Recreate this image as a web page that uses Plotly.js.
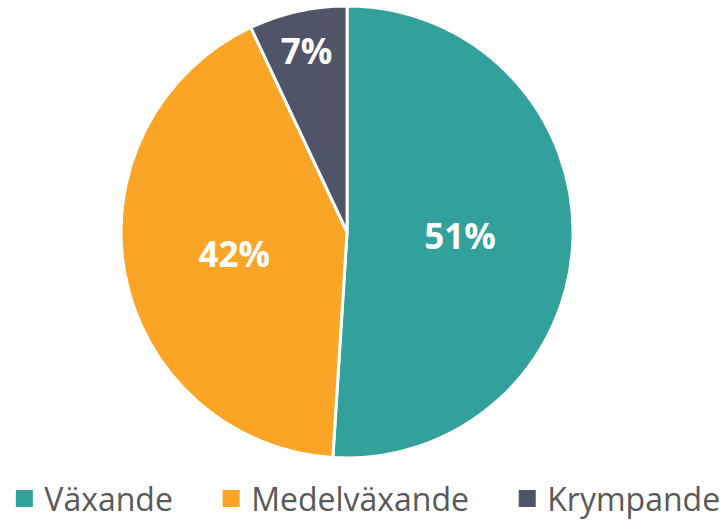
<!DOCTYPE html>
<html>
<head>
<meta charset="utf-8">
<script src="https://cdn.plot.ly/plotly-3.0.1.min.js"></script>
<style>html,body{margin:0;padding:0;background:#fff;}#chart{width:723px;height:520px;}</style>
</head>
<body>
<div id="chart"></div>
<script>
const categories = ["Växande", "Medelväxande", "Krympande"];
const shares = [51, 42, 7];
const colors = ["#33A19B", "#FBA526", "#4F5468"];

// extra spacing between legend entries (non-breaking spaces)
const legendPad = "\u00a0\u00a0\u00a0\u00a0";

const trace = {
  type: "pie",
  labels: categories.map((c, i) => i < categories.length - 1 ? c + legendPad : c),
  values: shares,
  sort: false,
  direction: "clockwise",
  rotation: 0,
  marker: {colors: colors, line: {color: "#ffffff", width: 3}},
  texttemplate: "%{percent:.0%}",
  textposition: "inside",
  insidetextorientation: "horizontal",
  textfont: {family: "Open Sans", size: 35, color: "#ffffff", weight: "bold"},
  hoverinfo: "none",
  domain: {x: [0, 0.96], y: [0.1206, 1]}
};

const layout = {
  width: 723, height: 520,
  margin: {l: 0, r: 0, t: 6, b: 0, autoexpand: false},
  paper_bgcolor: "#ffffff",
  plot_bgcolor: "#ffffff",
  showlegend: true,
  legend: {
    orientation: "h", x: 0.006, xanchor: "left", y: 0.095, yanchor: "top",
    font: {family: "Open Sans", size: 32, color: "#595959"},
    itemwidth: 30
  }
};

Plotly.newPlot("chart", [trace], layout, {displayModeBar: false, staticPlot: true}).then(gd => {
  gd.querySelectorAll(".legend .legendpoints path").forEach(p => {
    p.setAttribute("d", "M10,10H-10V-10H10Z");
  });
});
</script>
</body>
</html>
